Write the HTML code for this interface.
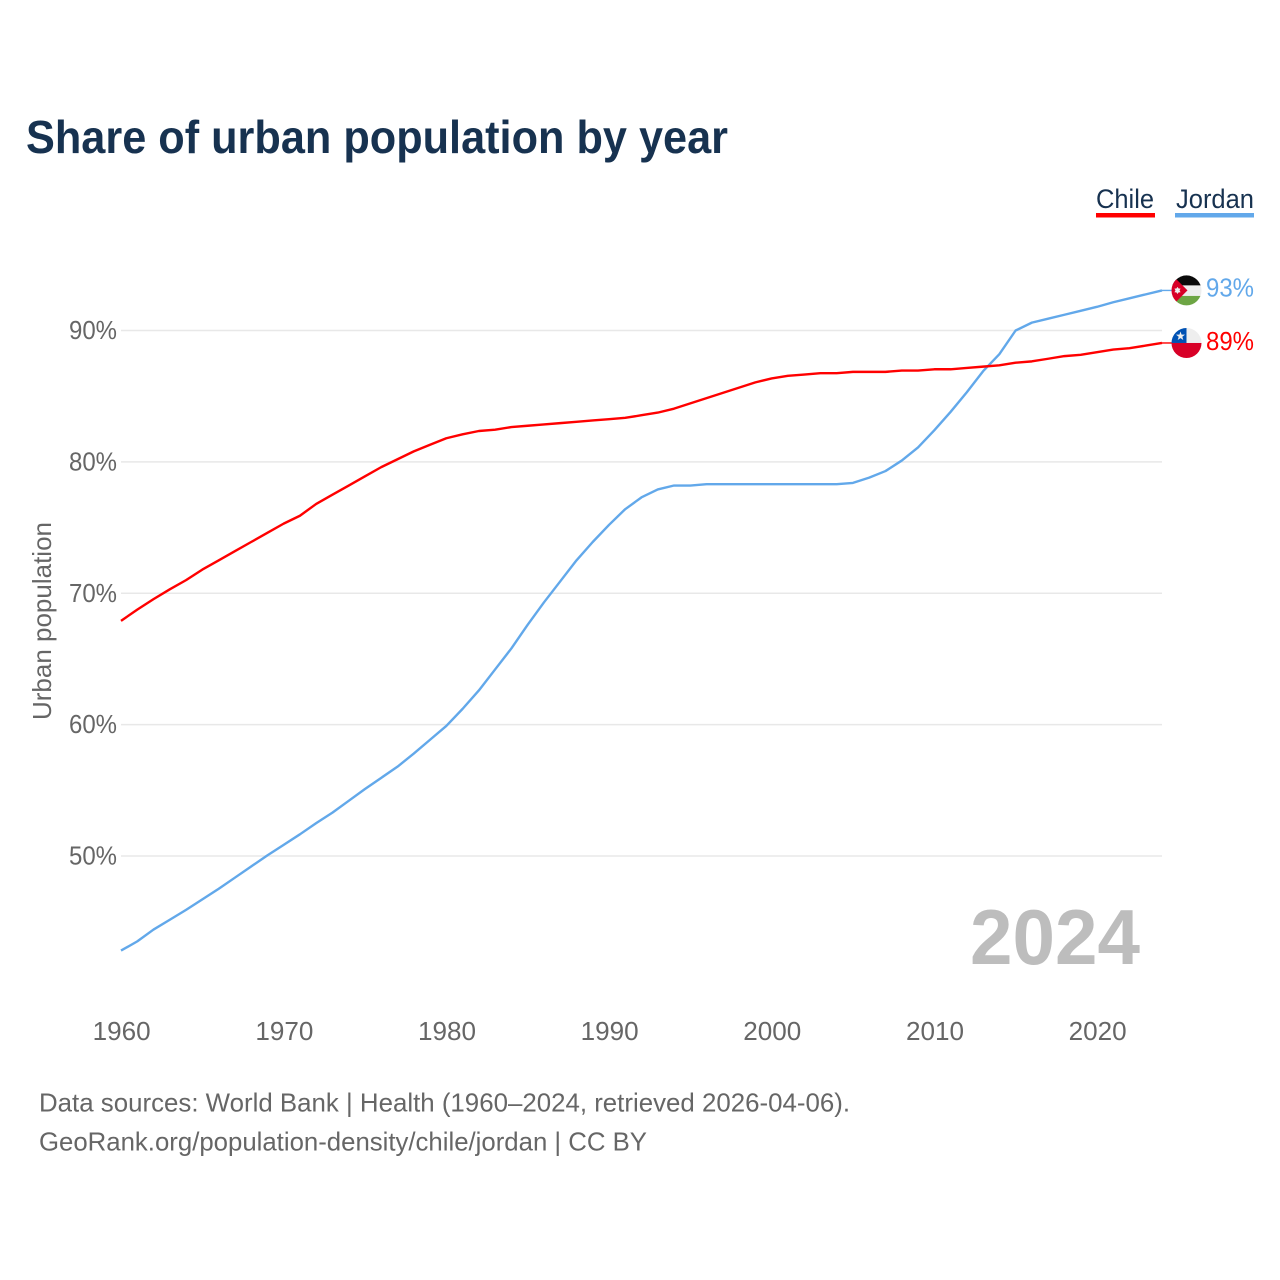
<!DOCTYPE html>
<html lang="en">
<head>
<meta charset="utf-8">
<title>Share of urban population by year</title>
<style>
html,body{margin:0;padding:0;background:#fff;}
svg{display:block;}
text{font-family:"Liberation Sans",sans-serif;}
</style>
</head>
<body>
<svg id="chart" width="1280" height="1280" viewBox="0 0 1280 1280" xmlns="http://www.w3.org/2000/svg">
  <defs>
    <clipPath id="flag-clip"><circle cx="0" cy="0" r="15"></circle></clipPath>
  </defs>
  <rect width="1280" height="1280" fill="#ffffff"></rect>
  <text x="26" y="153" font-size="46" font-weight="700" fill="#173250" textLength="702" lengthAdjust="spacingAndGlyphs">Share of urban population by year</text>

  <g>
    <g>
      <text x="1096" y="208" font-size="27" fill="#173250" textLength="58" lengthAdjust="spacingAndGlyphs">Chile</text>
      <rect x="1096" y="213" width="59" height="4.5" fill="#ff0000"></rect>
    </g>
    <g>
      <text x="1176" y="208" font-size="27" fill="#173250" textLength="78" lengthAdjust="spacingAndGlyphs">Jordan</text>
      <rect x="1175" y="213" width="79" height="4.5" fill="#62a8ea"></rect>
    </g>
  </g>

  <g id="grid"></g>
  <g id="y-ticks"></g>
  <g id="x-ticks"></g>
  <text transform="translate(51,720) rotate(-90)" font-size="26" fill="#666666" textLength="198" lengthAdjust="spacingAndGlyphs">Urban population</text>

  <text x="970" y="964" font-size="78" font-weight="700" fill="#bdbdbd" textLength="170" lengthAdjust="spacingAndGlyphs">2024</text>

  <g id="series"></g>

  <g id="flag-jordan">
    <g clip-path="url(#flag-clip)">
      <rect x="-16" y="-16" width="32" height="11" fill="#0a0a0a"></rect>
      <rect x="-16" y="-5" width="32" height="10.5" fill="#eeeeee"></rect>
      <rect x="-16" y="5.5" width="32" height="11" fill="#6da544"></rect>
      <polygon points="-16,-17 -16,17 1,0" fill="#d80027"></polygon>
      <polygon points="-9,-3.6 -7.9,-1.9 -5.9,-1.8 -7,0 -5.9,1.8 -7.9,1.9 -9,3.6 -10.1,1.9 -12.1,1.8 -11,0 -12.1,-1.8 -10.1,-1.9" fill="#eeeeee"></polygon>
    </g>
  </g>
  <g id="flag-chile">
    <g clip-path="url(#flag-clip)">
      <rect x="-16" y="-16" width="32" height="16" fill="#eeeeee"></rect>
      <rect x="-16" y="-16" width="16" height="16" fill="#0052b4"></rect>
      <rect x="-16" y="0" width="32" height="16" fill="#d80027"></rect>
      <polygon points="-6,-11.5 -4.9,-8.3 -1.5,-8.3 -4.2,-6.2 -3.2,-3 -6,-4.9 -8.8,-3 -7.8,-6.2 -10.5,-8.3 -7.1,-8.3" fill="#eeeeee"></polygon>
    </g>
  </g>

  <text id="value-jordan" x="1206" font-size="26" fill="#62a8ea" textLength="48" lengthAdjust="spacingAndGlyphs"></text>
  <text id="value-chile" x="1206" font-size="26" fill="#ff0000" textLength="48" lengthAdjust="spacingAndGlyphs"></text>

  <text x="39" y="1111.5" font-size="26" fill="#666666" textLength="811" lengthAdjust="spacingAndGlyphs">Data sources: World Bank | Health (1960–2024, retrieved 2026-04-06).</text>
  <text x="39" y="1150.5" font-size="26" fill="#666666" textLength="608" lengthAdjust="spacingAndGlyphs">GeoRank.org/population-density/chile/jordan | CC BY</text>
</svg>

<script>
const years = [1960,1961,1962,1963,1964,1965,1966,1967,1968,1969,1970,1971,1972,1973,1974,1975,1976,1977,1978,1979,1980,1981,1982,1983,1984,1985,1986,1987,1988,1989,1990,1991,1992,1993,1994,1995,1996,1997,1998,1999,2000,2001,2002,2003,2004,2005,2006,2007,2008,2009,2010,2011,2012,2013,2014,2015,2016,2017,2018,2019,2020,2021,2022,2023,2024];
const chileValues = [67.9,68.75,69.55,70.3,71.0,71.8,72.5,73.2,73.9,74.6,75.3,75.9,76.8,77.5,78.2,78.9,79.6,80.2,80.8,81.3,81.8,82.1,82.35,82.45,82.65,82.75,82.85,82.95,83.05,83.15,83.25,83.35,83.55,83.75,84.05,84.45,84.85,85.25,85.65,86.05,86.35,86.55,86.65,86.75,86.75,86.85,86.85,86.85,86.95,86.95,87.05,87.05,87.15,87.25,87.35,87.55,87.65,87.85,88.05,88.15,88.35,88.55,88.65,88.85,89.05];
const jordanValues = [42.8,43.5,44.4,45.15,45.9,46.7,47.5,48.35,49.2,50.05,50.85,51.65,52.5,53.3,54.2,55.1,55.95,56.8,57.8,58.85,59.9,61.2,62.6,64.2,65.8,67.6,69.3,70.9,72.5,73.9,75.2,76.4,77.3,77.9,78.2,78.2,78.3,78.3,78.3,78.3,78.3,78.3,78.3,78.3,78.3,78.4,78.8,79.3,80.1,81.1,82.4,83.8,85.3,86.9,88.2,90.0,90.6,90.9,91.2,91.5,91.8,92.15,92.45,92.75,93.05];
const yTickValues = [50,60,70,80,90];
const xTickValues = [1960,1970,1980,1990,2000,2010,2020];

const NS = 'http://www.w3.org/2000/svg';
function xScale(year){ return 121 + (year - 1960) * (1162 - 121) / 64; }
function yScale(v){ return 856 - (v - 50) * (856 - 330.5) / 40; }
function make(tag, attrs, parent){
  const el = document.createElementNS(NS, tag);
  for (const k in attrs) el.setAttribute(k, attrs[k]);
  parent.appendChild(el);
  return el;
}

const gridGroup = document.getElementById('grid');
const yTickGroup = document.getElementById('y-ticks');
const xTickGroup = document.getElementById('x-ticks');
const seriesGroup = document.getElementById('series');

yTickValues.forEach(function(v){
  const line = make('line', {x1:121, x2:1162, y1:yScale(v), y2:yScale(v), stroke:'#e8e8e8', 'stroke-width':1.6}, gridGroup);
  
  
  const label = make('text', {x:69, y:yScale(v) + 8.5, 'font-size':26, fill:'#666666', textLength:48, lengthAdjust:'spacingAndGlyphs'}, yTickGroup);
  label.textContent = v + '%';
  
  
});

xTickValues.forEach(function(y){
  const label = make('text', {x:xScale(y) - 28.3, y:1040, 'font-size':26, fill:'#666666', textLength:58, lengthAdjust:'spacingAndGlyphs'}, xTickGroup);
  label.textContent = String(y);
  
  
});

function linePath(values){
  return values.map(function(v, i){
    return (i ? 'L' : 'M') + xScale(years[i]).toFixed(2) + ' ' + yScale(v).toFixed(2);
  }).join(' ');
}

const jordanLine = make('path', {d:linePath(jordanValues), fill:'none', stroke:'#62a8ea', 'stroke-width':2.4, 'stroke-linejoin':'round'}, seriesGroup);



const chileLine = make('path', {d:linePath(chileValues), fill:'none', stroke:'#ff0000', 'stroke-width':2.4, 'stroke-linejoin':'round'}, seriesGroup);



const lastX = xScale(years[years.length - 1]);
const jordanLast = jordanValues[jordanValues.length - 1];
const chileLast = chileValues[chileValues.length - 1];

const jordanLeader = make('line', {x1:lastX, x2:1172, y1:yScale(jordanLast), y2:yScale(jordanLast), stroke:'#62a8ea', 'stroke-width':1.4}, seriesGroup);



const chileLeader = make('line', {x1:lastX, x2:1172, y1:yScale(chileLast), y2:yScale(chileLast), stroke:'#ff0000', 'stroke-width':1.4}, seriesGroup);



document.getElementById('flag-jordan').setAttribute('transform', 'translate(1186.5,' + yScale(jordanLast) + ')');
document.getElementById('flag-chile').setAttribute('transform', 'translate(1186.5,' + yScale(chileLast) + ')');

const jordanText = document.getElementById('value-jordan');
jordanText.setAttribute('y', yScale(jordanLast) + 6);
jordanText.textContent = Math.round(jordanLast) + '%';

const chileText = document.getElementById('value-chile');
chileText.setAttribute('y', yScale(chileLast) + 7);
chileText.textContent = Math.round(chileLast) + '%';
</script>
</body>
</html>
